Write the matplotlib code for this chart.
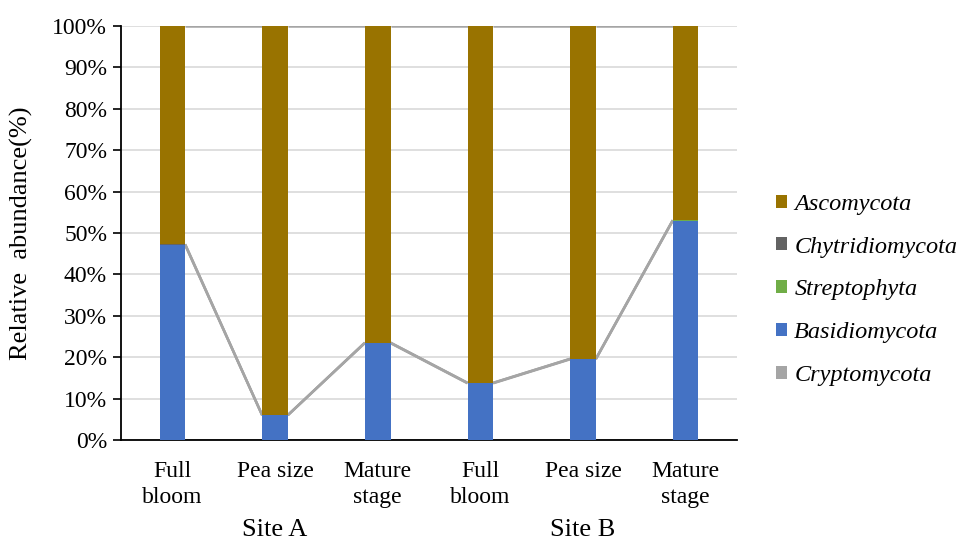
import matplotlib
matplotlib.use("Agg")
import matplotlib.pyplot as plt
import matplotlib.transforms as mtransforms
from matplotlib.patches import Patch
import numpy as np

plt.rcParams['font.family'] = ['Liberation Serif', 'DejaVu Serif']

stages = ["Full\nbloom", "Pea size", "Mature\nstage", "Full\nbloom", "Pea size", "Mature\nstage"]
sites = ["Site A", "Site B"]

# Relative abundance (%) per phylum, stacked bottom to top
cryptomycota = [0.1, 0.1, 0.1, 0.1, 0.1, 0.1]
basidiomycota = [47.0, 5.9, 23.3, 13.6, 19.4, 52.9]
streptophyta = [0.1, 0.0, 0.1, 0.1, 0.1, 0.1]
chytridiomycota = [0.1, 0.0, 0.0, 0.0, 0.0, 0.0]
ascomycota = [100 - a - b - c - d for a, b, c, d in
              zip(cryptomycota, basidiomycota, streptophyta, chytridiomycota)]

series = [
    ("Cryptomycota", cryptomycota, "#A5A5A5"),
    ("Basidiomycota", basidiomycota, "#4472C4"),
    ("Streptophyta", streptophyta, "#70AD47"),
    ("Chytridiomycota", chytridiomycota, "#636363"),
    ("Ascomycota", ascomycota, "#997300"),
]

fig = plt.figure(figsize=(9.57, 5.43), dpi=100)
W, H = 957, 543
ax = fig.add_axes([121 / W, (H - 440) / H, 616 / W, 414 / H])

x = np.arange(len(stages))
width = 0.25
bottom = np.zeros(len(stages))
for name, vals, color in series:
    vals = np.array(vals, dtype=float)
    ax.bar(x, vals, width, bottom=bottom, color=color, label=name, zorder=3)
    bottom = bottom + vals
    # series lines joining the tops of adjacent bars
    for i in range(len(x) - 1):
        ax.plot([x[i] + width / 2, x[i + 1] - width / 2], [bottom[i], bottom[i + 1]],
                color="#A5A5A5", lw=1.8, zorder=2, solid_capstyle="butt")

ax.set_xlim(-0.5, len(stages) - 0.5)
ax.set_ylim(0, 100)
ax.set_yticks(np.arange(0, 101, 10))
ax.set_yticklabels([f"{v}%" for v in range(0, 101, 10)], fontsize=17)
ax.yaxis.grid(True, color="#D9D9D9", lw=1.2, zorder=0)
ax.set_axisbelow(True)
ax.tick_params(axis="y", direction="out", length=6, width=1.2, pad=4)

ax.set_xticks(x)
ax.set_xticklabels(stages, fontsize=17, linespacing=1.3, va="top")
ax.tick_params(axis="x", length=0, pad=15)

for side in ["top", "right"]:
    ax.spines[side].set_visible(False)
ax.spines["left"].set_linewidth(1.3)
ax.spines["bottom"].set_linewidth(1.3)

ax.set_ylabel("Relative  abundance(%)", fontsize=19)
ax.yaxis.set_label_coords(-(121 - 33) / 616, 0.5)

trans = mtransforms.blended_transform_factory(ax.transData, fig.transFigure)
for k, site in enumerate(sites):
    ax.text(1 + 3 * k, (H - 530) / H, site, transform=trans, ha="center",
            va="center", fontsize=19)

handles = [Patch(facecolor=c, label=n) for n, _, c in series[::-1]]
fig.legend(handles=handles, loc="center left", bbox_to_anchor=(776 / W, (H - 290) / H),
           frameon=False, prop={"style": "italic", "size": 17.5}, handlelength=0.45,
           handleheight=0.45, handletextpad=0.3, labelspacing=0.9,
           borderpad=0, borderaxespad=0)

fig.savefig("out.png", dpi=100)
